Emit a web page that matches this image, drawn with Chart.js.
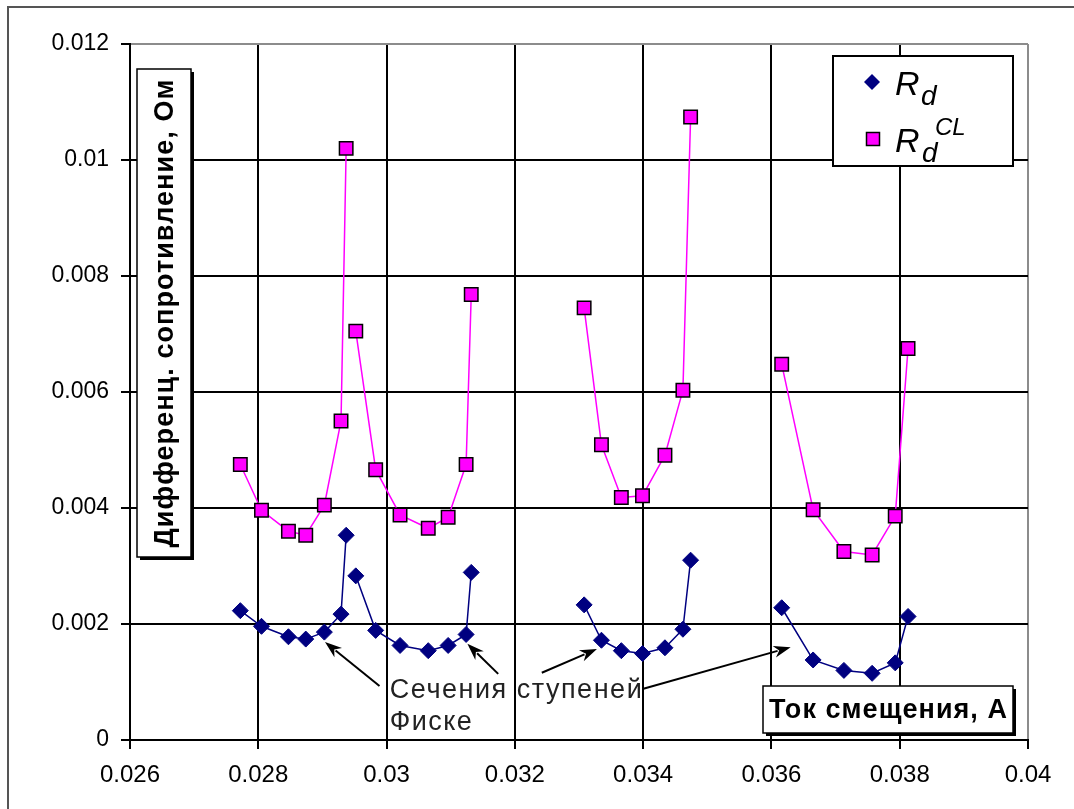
<!DOCTYPE html>
<html>
<head>
<meta charset="utf-8">
<script src="https://cdn.jsdelivr.net/npm/chart.js@4.4.0/dist/chart.umd.min.js"></script>
<style>
  html, body { margin: 0; padding: 0; background: #fff; }
</style>
</head>
<body>
<canvas id="chart" width="1074" height="809"></canvas>
<script>
// Bias current, A (null = break in the curve)
const current = [
  0.02772, 0.02805, 0.02847, 0.02874, 0.02903, 0.02929, 0.02937, null,
  0.02952, 0.02983, 0.03021, 0.03065, 0.03096, 0.03124, 0.03132, null,
  0.03308, 0.03335, 0.03366, 0.03399, 0.03434, 0.03462, 0.03474, null,
  0.03616, 0.03665, 0.03713, 0.03757, 0.03793, 0.03813
];
// R_d, Ohm
const rd = [
  0.00223, 0.00196, 0.00178, 0.00174, 0.00186, 0.00217, 0.00353, null,
  0.00283, 0.00189, 0.00163, 0.00154, 0.00163, 0.00182, 0.00289, null,
  0.00233, 0.00172, 0.00154, 0.00149, 0.00159, 0.00191, 0.00310, null,
  0.00228, 0.00138, 0.00120, 0.00115, 0.00133, 0.00213
];
// R_d^CL, Ohm
const rdCL = [
  0.00475, 0.00396, 0.00360, 0.00353, 0.00405, 0.00550, 0.01020, null,
  0.00705, 0.00466, 0.00388, 0.00365, 0.00384, 0.00475, 0.00768, null,
  0.00745, 0.00509, 0.00418, 0.00421, 0.00491, 0.00603, 0.01074, null,
  0.00648, 0.00397, 0.00325, 0.00319, 0.00386, 0.00675
];
const xTickValues = [0.026, 0.028, 0.030, 0.032, 0.034, 0.036, 0.038, 0.040];
const xTickLabels = ['0.026', '0.028', '0.03', '0.032', '0.034', '0.036', '0.038', '0.04'];
const yTickValues = [0, 0.002, 0.004, 0.006, 0.008, 0.010, 0.012];
const yTickLabels = ['0', '0.002', '0.004', '0.006', '0.008', '0.01', '0.012'];

const yTitle = 'Дифференц. сопротивление, Ом';
const xTitle = 'Ток смещения, А';
const noteLines = ['Сечения ступеней', 'Фиске'];

const FONT = "'Liberation Sans', Arial, sans-serif";

// draw text stretched with letter spacing to a given width
function fitText(ctx, text, x, y, width) {
  ctx.letterSpacing = '0px';
  const w = ctx.measureText(text).width;
  const sp = (width - w) / Math.max(text.length - 1, 1);
  ctx.letterSpacing = sp.toFixed(2) + 'px';
  ctx.fillText(text, x, y);
  ctx.letterSpacing = '0px';
}

function shadowBox(ctx, x, y, w, h) {
  ctx.fillStyle = '#000';
  ctx.fillRect(x + 3, y + 3, w, h);
  ctx.fillStyle = '#fff';
  ctx.fillRect(x, y, w, h);
  ctx.strokeStyle = '#000';
  ctx.lineWidth = 1.5;
  ctx.strokeRect(x, y, w, h);
}

function arrow(ctx, x1, y1, x2, y2) {
  const a = Math.atan2(y2 - y1, x2 - x1);
  const len = 17, half = 6;
  ctx.beginPath();
  ctx.moveTo(x1, y1);
  ctx.lineTo(x2 - Math.cos(a) * len * 0.8, y2 - Math.sin(a) * len * 0.8);
  ctx.stroke();
  ctx.beginPath();
  ctx.moveTo(x2, y2);
  ctx.lineTo(x2 - Math.cos(a) * len - Math.sin(a) * half, y2 - Math.sin(a) * len + Math.cos(a) * half);
  ctx.lineTo(x2 - Math.cos(a) * len * 0.7, y2 - Math.sin(a) * len * 0.7);
  ctx.lineTo(x2 - Math.cos(a) * len + Math.sin(a) * half, y2 - Math.sin(a) * len - Math.cos(a) * half);
  ctx.closePath();
  ctx.fill();
}

const decorations = {
  id: 'decorations',
  afterDraw(chart) {
    const ctx = chart.ctx;
    const xs = chart.scales.x, ys = chart.scales.y;
    const px = v => xs.getPixelForValue(v);
    const py = v => ys.getPixelForValue(v);
    ctx.save();

    // outer frame of the chart object
    ctx.strokeStyle = '#555';
    ctx.lineWidth = 2;
    ctx.beginPath();
    ctx.moveTo(8, 809);
    ctx.lineTo(8, 7);
    ctx.lineTo(1074, 7);
    ctx.stroke();

    // y axis title box
    shadowBox(ctx, 137, 69, 54, 488);
    ctx.save();
    ctx.translate(165, 313);
    ctx.rotate(-Math.PI / 2);
    ctx.fillStyle = '#000';
    ctx.font = 'bold 27px ' + FONT;
    ctx.textAlign = 'center';
    ctx.textBaseline = 'middle';
    fitText(ctx, yTitle, 0, 1, 468);
    ctx.restore();

    // x axis title box
    shadowBox(ctx, 763, 686, 250, 47);
    ctx.fillStyle = '#000';
    ctx.font = 'bold 27px ' + FONT;
    ctx.textAlign = 'left';
    ctx.textBaseline = 'middle';
    fitText(ctx, xTitle, 769, 711, 238);

    // legend
    ctx.fillStyle = '#fff';
    ctx.fillRect(833, 56, 180, 110);
    ctx.strokeStyle = '#000';
    ctx.lineWidth = 2;
    ctx.strokeRect(833, 56, 180, 110);
    ctx.fillStyle = '#000080';
    ctx.beginPath();
    ctx.moveTo(872, 74); ctx.lineTo(880, 82); ctx.lineTo(872, 90); ctx.lineTo(864, 82);
    ctx.closePath();
    ctx.fill();
    ctx.fillStyle = '#ff00ff';
    ctx.fillRect(866.5, 132.5, 13, 13);
    ctx.lineWidth = 1.5;
    ctx.strokeRect(866.5, 132.5, 13, 13);
    ctx.fillStyle = '#000';
    ctx.textAlign = 'left';
    ctx.textBaseline = 'alphabetic';
    ctx.font = 'italic 34px ' + FONT;
    ctx.fillText('R', 895, 95);
    ctx.fillText('R', 895, 152);
    ctx.font = 'italic 28px ' + FONT;
    ctx.fillText('d', 921, 105);
    ctx.fillText('d', 922, 162);
    ctx.font = 'italic 24px ' + FONT;
    ctx.fillText('CL', 935, 135);

    // annotation "Сечения ступеней Фиске" with arrows
    ctx.fillStyle = '#222';
    ctx.font = '27px ' + FONT;
    ctx.textBaseline = 'middle';
    const tx = px(0.03005);
    fitText(ctx, noteLines[0], tx, py(0.00085), 252);
    fitText(ctx, noteLines[1], tx, py(0.00030), 82);

    ctx.strokeStyle = '#000';
    ctx.fillStyle = '#000';
    ctx.lineWidth = 2;
    arrow(ctx, px(0.02989), py(0.00093), px(0.02904), py(0.00169));
    arrow(ctx, px(0.03174), py(0.00114), px(0.03126), py(0.00166));
    arrow(ctx, px(0.03242), py(0.00116), px(0.03328), py(0.00157));
    arrow(ctx, px(0.03399), py(0.00088), px(0.03630), py(0.00160));

    ctx.restore();
  }
};

const gridColor = (ctx, last) => (ctx.tick && Math.abs(ctx.tick.value - last) < 1e-9) ? '#8c8c8c' : '#000';

new Chart(document.getElementById('chart'), {
  type: 'scatter',
  data: {
    datasets: [
      {
        label: 'Rd',
        data: current.map((x, i) => ({ x: x, y: rd[i] })),
        showLine: true,
        spanGaps: false,
        borderColor: '#000080',
        borderWidth: 1.5,
        pointStyle: 'rectRot',
        pointRadius: 8,
        pointBackgroundColor: '#000080',
        pointBorderColor: '#000080',
        pointBorderWidth: 1
      },
      {
        label: 'RdCL',
        data: current.map((x, i) => ({ x: x, y: rdCL[i] })),
        showLine: true,
        spanGaps: false,
        borderColor: '#ff00ff',
        borderWidth: 1.5,
        pointStyle: 'rect',
        pointRadius: 9.5,
        pointBackgroundColor: '#ff00ff',
        pointBorderColor: '#000',
        pointBorderWidth: 1.5
      }
    ]
  },
  options: {
    responsive: false,
    animation: false,
    events: [],
    layout: { padding: { left: 0, top: 44, right: 46, bottom: 0 } },
    plugins: {
      legend: { display: false },
      tooltip: { enabled: false }
    },
    scales: {
      x: {
        type: 'linear',
        min: 0.026,
        max: 0.04,
        afterBuildTicks: s => { s.ticks = xTickValues.map(v => ({ value: v })); },
        afterFit: s => { s.height = 69; },
        ticks: {
          callback: (v, i) => xTickLabels[i],
          color: '#000',
          padding: 12,
          maxRotation: 0,
          autoSkip: false,
          font: { family: FONT, size: 24 }
        },
        grid: {
          color: ctx => gridColor(ctx, 0.04),
          lineWidth: 2,
          drawTicks: true,
          tickLength: 9,
          tickColor: '#000',
          tickWidth: 2
        },
        border: { color: '#000', width: 2 }
      },
      y: {
        type: 'linear',
        min: 0,
        max: 0.012,
        afterBuildTicks: s => { s.ticks = yTickValues.map(v => ({ value: v })); },
        afterFit: s => { s.width = 130; },
        ticks: {
          callback: (v, i) => yTickLabels[i],
          color: '#000',
          padding: 12,
          autoSkip: false,
          font: { family: FONT, size: 23 }
        },
        grid: {
          color: ctx => gridColor(ctx, 0.012),
          lineWidth: 2,
          drawTicks: true,
          tickLength: 9,
          tickColor: '#000',
          tickWidth: 2
        },
        border: { color: '#000', width: 2 }
      }
    }
  },
  plugins: [decorations]
});
</script>
</body>
</html>
